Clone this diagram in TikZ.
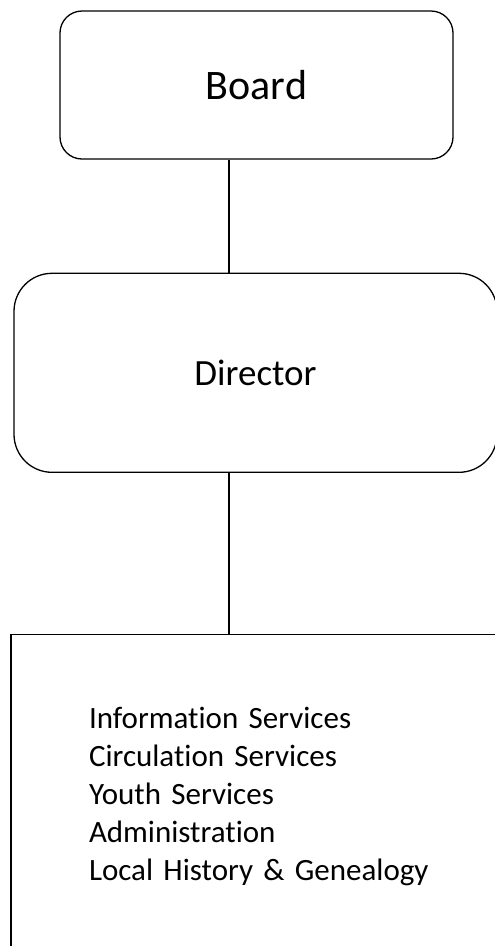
\documentclass[tikz,border=0pt]{standalone}
\usepackage{fontspec}
\setmainfont{Carlito}[Ligatures=CommonOff]
\usetikzlibrary{positioning}

\begin{document}
\begin{tikzpicture}[
    x=1pt, y=1pt,
    every node/.style={
        draw=black,
        line width=1.3pt,
        align=center
    },
    rbox/.style={
        rectangle,
        inner sep=0pt
    },
    link/.style={line width=1.3pt}
]
\useasboundingbox (0,0) rectangle (495,-946);
\clip (0,0) rectangle (495,-946);

\node[rbox, rounded corners=22pt, minimum width=393pt, minimum height=148pt,
      font=\fontsize{42}{49}\selectfont] (board) at (256.5,-85) {Board};

\node[rbox, rounded corners=38pt, minimum width=483pt, minimum height=199pt,
      font=\fontsize{37}{44}\selectfont,
      below=113pt of board, xshift=-1pt] (director) {Director};

\node[rbox, minimum width=576pt, minimum height=324pt, text width=420pt,
      align=left, font=\fontsize{31}{38}\selectfont,
      below=161pt of director, xshift=43.5pt] (units) {
    Information Services\\
    Circulation Services\\
    Youth Services\\
    Administration\\
    Local History \& Genealogy
};

\draw[link] ([xshift=-27.5pt]board.south) -- ([xshift=-27.5pt]board.south |- director.north);
\draw[link] ([xshift=-26.5pt]director.south) -- ([xshift=-26.5pt]director.south |- units.north);

\end{tikzpicture}
\end{document}
